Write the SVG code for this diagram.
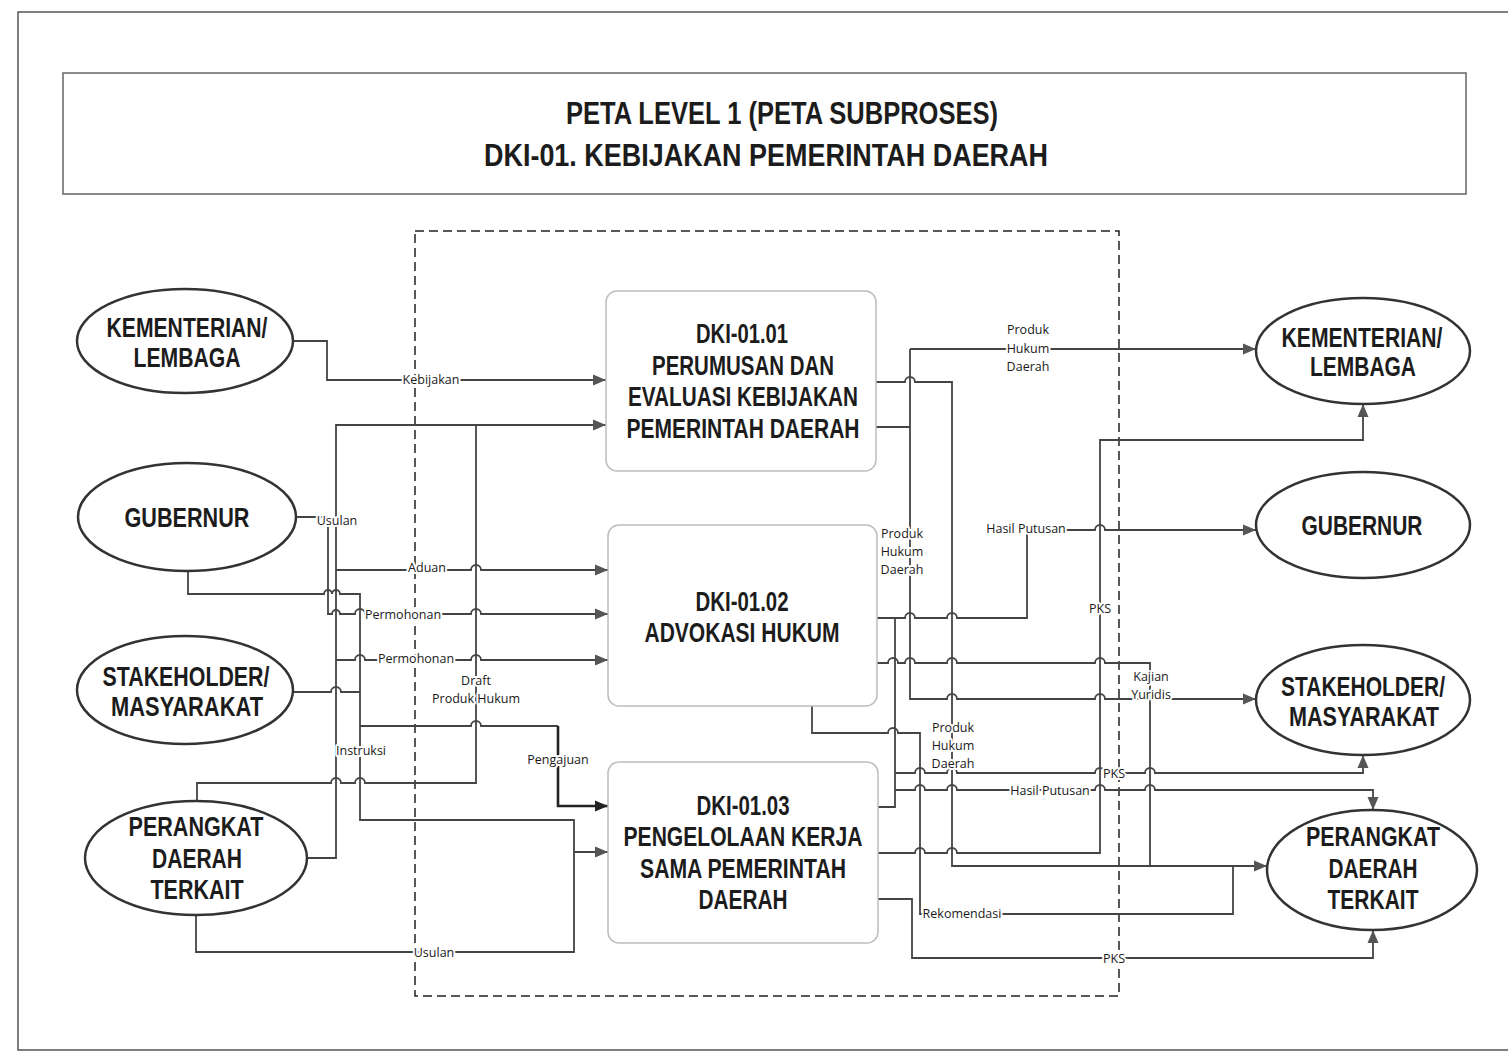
<svg xmlns="http://www.w3.org/2000/svg" width="1508" height="1054" viewBox="0 0 1508 1054">
<style>
.frame{fill:none;stroke:#555;stroke-width:1.5}
.ell{fill:#fff;stroke:#333;stroke-width:2.5}
.proc{fill:#fff;stroke:#bdbdbd;stroke-width:1.5}
.big{font-family:"Liberation Sans",Arial,sans-serif;font-weight:bold;font-size:27px;fill:#1c1c1c;text-anchor:middle}
.ttl{font-family:"Liberation Sans",Arial,sans-serif;font-weight:bold;font-size:31px;fill:#1c1c1c;text-anchor:middle}
.c{fill:none;stroke:#444;stroke-width:1.8}
.ca{fill:none;stroke:#444;stroke-width:1.8;marker-end:url(#ah)}
.cb{fill:none;stroke:#222;stroke-width:2.6;marker-end:url(#ahb)}
.lbl{font-family:"Open Sans","Noto Sans",sans-serif;font-size:12.5px;fill:#1a1a1a;text-anchor:middle;paint-order:stroke;stroke:#fff;stroke-width:4;stroke-linejoin:round}
</style>
<defs>
<marker id="ah" markerWidth="14" markerHeight="12" refX="13" refY="6" orient="auto" markerUnits="userSpaceOnUse">
<path d="M0,0.5 L13,6 L0,11.5 Z" fill="#555"/>
</marker>
<marker id="ahb" markerWidth="14" markerHeight="12" refX="13" refY="6" orient="auto" markerUnits="userSpaceOnUse">
<path d="M0,0.5 L13,6 L0,11.5 Z" fill="#222"/>
</marker>
</defs>
<rect width="1508" height="1054" fill="#fff"/>
<path class="frame" d="M1508,12 H18 V1050 H1508" stroke="#444"/>

<g id="title">
<rect x="63" y="73" width="1403" height="121" fill="#fff" stroke="#666" stroke-width="1.5"/>
<text class="ttl" x="782" y="124" textLength="432" lengthAdjust="spacingAndGlyphs">PETA LEVEL 1 (PETA SUBPROSES)</text>
<text class="ttl" x="766" y="166" textLength="564" lengthAdjust="spacingAndGlyphs">DKI-01. KEBIJAKAN PEMERINTAH DAERAH</text>
</g>

<g id="boundary">
<rect x="415" y="231" width="704" height="765" fill="none" stroke="#222" stroke-width="1.5" stroke-dasharray="9 5"/>
</g>

<g id="connectors">
<!-- left side -->
<path class="ca" d="M293,341 H327 V380 H606"/>
<path class="ca" d="M307,858 H336 V425 H606"/>
<path class="c" d="M197,800 V783 H331 a5,5 0 0 1 10,0 H355 a5,5 0 0 1 10,0 H476 V425"/>
<path class="ca" d="M296,517 H328 V614 H332 a4,4 0 0 1 8,0 H355 a5,5 0 0 1 10,0 H471 a5,5 0 0 1 10,0 H608"/>
<path class="ca" d="M188,572 V594 H324 a4,4 0 0 1 8,0 a4,4 0 0 1 8,0 H360 V820 H574 V852 H608"/>
<path class="c" d="M196,915 V952 H574 V852"/>
<path class="ca" d="M336,570 H471 a5,5 0 0 1 10,0 H608"/>
<path class="ca" d="M336,660 H355 a5,5 0 0 1 10,0 H471 a5,5 0 0 1 10,0 H608"/>
<path class="c" d="M293,692 H331 a5,5 0 0 1 10,0 H360"/>
<path class="c" d="M360,726 H471 a5,5 0 0 1 10,0 H558"/>
<path class="cb" d="M558,726 V806 H608"/>
<!-- right side -->
<path class="ca" d="M876,382 H905 a5,5 0 0 1 10,0 H952 V866 H1267"/>
<path class="c" d="M876,427 H910"/>
<path class="ca" d="M910,349 H1256"/>
<path class="ca" d="M910,349 V699 H947 a5,5 0 0 1 10,0 H1095 a5,5 0 0 1 10,0 H1256"/>
<path class="ca" d="M877,618 H905 a5,5 0 0 1 10,0 H947 a5,5 0 0 1 10,0 H1027 V530 H1095 a5,5 0 0 1 10,0 H1256"/>
<path class="c" d="M877,663 H888 a5,5 0 0 1 10,0 H905 a5,5 0 0 1 10,0 H947 a5,5 0 0 1 10,0 H1095 a5,5 0 0 1 10,0 H1150 V866"/>
<path class="c" d="M812,706 V733 H888 a5,5 0 0 1 10,0 H920 V914 H1233 V866"/>
<path class="c" d="M878,807 H895 V618"/>
<path class="ca" d="M895,773 H915 a5,5 0 0 1 10,0 H947 a5,5 0 0 1 10,0 H1095 a5,5 0 0 1 10,0 H1145 a5,5 0 0 1 10,0 H1363 V755"/>
<path class="ca" d="M895,790 H915 a5,5 0 0 1 10,0 H947 a5,5 0 0 1 10,0 H1095 a5,5 0 0 1 10,0 H1145 a5,5 0 0 1 10,0 H1373 V810"/>
<path class="ca" d="M878,853 H915 a5,5 0 0 1 10,0 H947 a5,5 0 0 1 10,0 H1100 V440 H1363 V404"/>
<path class="ca" d="M878,899 H912 V958 H1373 V930"/>
<!-- labels -->
<text class="lbl" x="431" y="384">Kebijakan</text>
<text class="lbl" x="337" y="525">Usulan</text>
<text class="lbl" x="427" y="572">Aduan</text>
<text class="lbl" x="403" y="619">Permohonan</text>
<text class="lbl" x="416" y="663">Permohonan</text>
<text class="lbl" x="476" y="685">Draft</text>
<text class="lbl" x="476" y="703">Produk Hukum</text>
<text class="lbl" x="361" y="755">Instruksi</text>
<text class="lbl" x="558" y="764">Pengajuan</text>
<text class="lbl" x="434" y="957">Usulan</text>
<text class="lbl" x="1028" y="334">Produk</text>
<text class="lbl" x="1028" y="353">Hukum</text>
<text class="lbl" x="1028" y="371">Daerah</text>
<text class="lbl" x="1026" y="533">Hasil Putusan</text>
<text class="lbl" x="902" y="538">Produk</text>
<text class="lbl" x="902" y="556">Hukum</text>
<text class="lbl" x="902" y="574">Daerah</text>
<text class="lbl" x="1100" y="613">PKS</text>
<text class="lbl" x="1151" y="681">Kajian</text>
<text class="lbl" x="1151" y="699">Yuridis</text>
<text class="lbl" x="953" y="732">Produk</text>
<text class="lbl" x="953" y="750">Hukum</text>
<text class="lbl" x="953" y="768">Daerah</text>
<text class="lbl" x="1114" y="778">PKS</text>
<text class="lbl" x="1050" y="795">Hasil Putusan</text>
<text class="lbl" x="962" y="918">Rekomendasi</text>
<text class="lbl" x="1114" y="963">PKS</text>
</g>

<g id="p1">
<rect class="proc" x="606" y="291" width="270" height="180" rx="11"/>
<text class="big" x="742" y="343" textLength="92" lengthAdjust="spacingAndGlyphs">DKI-01.01</text>
<text class="big" x="743" y="375" textLength="182" lengthAdjust="spacingAndGlyphs">PERUMUSAN DAN</text>
<text class="big" x="743" y="406" textLength="230" lengthAdjust="spacingAndGlyphs">EVALUASI KEBIJAKAN</text>
<text class="big" x="743" y="438" textLength="233" lengthAdjust="spacingAndGlyphs">PEMERINTAH DAERAH</text>
</g>
<g id="p2">
<rect class="proc" x="608" y="525" width="269" height="181" rx="11"/>
<text class="big" x="742" y="611" textLength="93" lengthAdjust="spacingAndGlyphs">DKI-01.02</text>
<text class="big" x="742" y="642" textLength="195" lengthAdjust="spacingAndGlyphs">ADVOKASI HUKUM</text>
</g>
<g id="p3">
<rect class="proc" x="608" y="762" width="270" height="181" rx="11"/>
<text class="big" x="743" y="815" textLength="93" lengthAdjust="spacingAndGlyphs">DKI-01.03</text>
<text class="big" x="743" y="846" textLength="239" lengthAdjust="spacingAndGlyphs">PENGELOLAAN KERJA</text>
<text class="big" x="743" y="878" textLength="206" lengthAdjust="spacingAndGlyphs">SAMA PEMERINTAH</text>
<text class="big" x="743" y="909" textLength="89" lengthAdjust="spacingAndGlyphs">DAERAH</text>
</g>

<g id="l1">
<ellipse class="ell" cx="185" cy="341" rx="108" ry="52"/>
<text class="big" x="187" y="337" textLength="161" lengthAdjust="spacingAndGlyphs">KEMENTERIAN/</text>
<text class="big" x="187" y="367" textLength="107" lengthAdjust="spacingAndGlyphs">LEMBAGA</text>
</g>
<g id="l2">
<ellipse class="ell" cx="187" cy="517" rx="109" ry="54"/>
<text class="big" x="187" y="527" textLength="125" lengthAdjust="spacingAndGlyphs">GUBERNUR</text>
</g>
<g id="l3">
<ellipse class="ell" cx="185" cy="690" rx="108" ry="54"/>
<text class="big" x="186" y="686" textLength="167" lengthAdjust="spacingAndGlyphs">STAKEHOLDER/</text>
<text class="big" x="187" y="716" textLength="152" lengthAdjust="spacingAndGlyphs">MASYARAKAT</text>
</g>
<g id="l4">
<ellipse class="ell" cx="196" cy="858" rx="111" ry="57"/>
<text class="big" x="196" y="836" textLength="135" lengthAdjust="spacingAndGlyphs">PERANGKAT</text>
<text class="big" x="197" y="868" textLength="90" lengthAdjust="spacingAndGlyphs">DAERAH</text>
<text class="big" x="197" y="899" textLength="93" lengthAdjust="spacingAndGlyphs">TERKAIT</text>
</g>
<g id="r1">
<ellipse class="ell" cx="1363" cy="351" rx="107" ry="53"/>
<text class="big" x="1362" y="347" textLength="161" lengthAdjust="spacingAndGlyphs">KEMENTERIAN/</text>
<text class="big" x="1363" y="376" textLength="106" lengthAdjust="spacingAndGlyphs">LEMBAGA</text>
</g>
<g id="r2">
<ellipse class="ell" cx="1363" cy="525" rx="107" ry="53"/>
<text class="big" x="1362" y="535" textLength="121" lengthAdjust="spacingAndGlyphs">GUBERNUR</text>
</g>
<g id="r3">
<ellipse class="ell" cx="1363" cy="700" rx="107" ry="55"/>
<text class="big" x="1363" y="696" textLength="164" lengthAdjust="spacingAndGlyphs">STAKEHOLDER/</text>
<text class="big" x="1364" y="726" textLength="150" lengthAdjust="spacingAndGlyphs">MASYARAKAT</text>
</g>
<g id="r4">
<ellipse class="ell" cx="1372" cy="870" rx="105" ry="60"/>
<text class="big" x="1373" y="846" textLength="134" lengthAdjust="spacingAndGlyphs">PERANGKAT</text>
<text class="big" x="1373" y="878" textLength="89" lengthAdjust="spacingAndGlyphs">DAERAH</text>
<text class="big" x="1373" y="909" textLength="91" lengthAdjust="spacingAndGlyphs">TERKAIT</text>
</g>
</svg>
